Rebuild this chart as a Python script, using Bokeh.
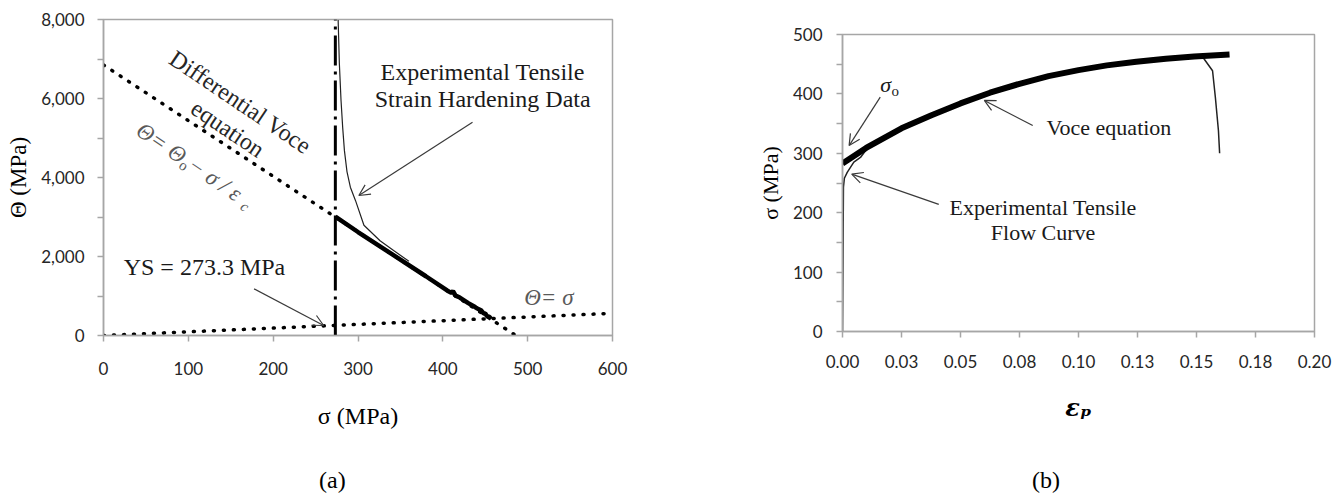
import math
from bokeh.plotting import figure
from bokeh.layouts import row, column
from bokeh.models import (Range1d, FixedTicker, NumeralTickFormatter, Label,
                          Arrow, OpenHead, Div)
from bokeh.embed import file_html
from bokeh.resources import INLINE

# ---------------- data: panel (a) ----------------
voce_sigma = [0, 486]                 # differential Voce equation (dotted)
voce_theta = [6850, 0]
ident_sigma = [0, 592]                # Theta = sigma (dotted)
ident_theta = [0, 555]
ys_sigma = [273.3, 273.3]             # yield strength line (dash-dot)
ys_theta = [0, 8000]
hard_thin_sigma = [276.6, 278, 280, 282, 284, 287, 291, 297, 307, 326, 342, 360]
hard_thin_theta = [7990, 6900, 5950, 5250, 4680, 4150, 3755, 3420, 2790, 2400, 2150, 1880]
hard_thick_sigma = [273.3, 300, 340, 380, 405, 410, 412, 415, 420, 430, 438,
                    440, 445, 448, 450, 452, 455, 457]
hard_thick_theta = [3010, 2620, 2060, 1500, 1140, 1080, 1120, 1010, 960, 820, 720,
                    690, 640, 560, 560, 490, 470, 420]
sigma_ticks = [0, 100, 200, 300, 400, 500, 600]
theta_ticks = [0, 2000, 4000, 6000, 8000]
theta_minor = [1000, 3000, 5000, 7000]

# ---------------- data: panel (b) ----------------
voce_eps = [0, 0.01, 0.025, 0.0377, 0.05, 0.0625, 0.075, 0.0873, 0.1, 0.112,
            0.1245, 0.137, 0.149, 0.164]
voce_stress = [283, 309, 342, 364, 384, 402, 417, 430, 440, 448, 454, 459, 463, 466.5]
flow_eps = [0, 0.0002, 0.0004, 0.0008, 0.002, 0.0048, 0.0076, 0.011, 0.025, 0.05,
            0.075, 0.1, 0.125, 0.149, 0.153, 0.1568, 0.158, 0.1593, 0.1598]
flow_stress = [0, 120, 243, 258, 268, 285, 293, 311, 342, 384, 417, 440, 454, 463,
               460, 439, 394, 338, 300]
eps_ticks = [0, 0.025, 0.05, 0.075, 0.1, 0.125, 0.15, 0.175, 0.2]
eps_labels = ["0.00", "0.03", "0.05", "0.08", "0.10", "0.13", "0.15", "0.18", "0.20"]
stress_ticks = [0, 100, 200, 300, 400, 500]
stress_minor = [50, 150, 250, 350, 450]

SERIF = "Liberation Serif"
TICKFONT = "Lato"
AXIS_GRAY = "#a6a6a6"
TXT = "#1a1a1a"
ARROW = "#3a3a3a"


def style_axes(p, xticks, yticks, yminor, xstand, ystand):
    p.xaxis.ticker = FixedTicker(ticks=xticks, minor_ticks=[])
    p.yaxis.ticker = FixedTicker(ticks=yticks, minor_ticks=yminor)
    p.xgrid.visible = False
    p.ygrid.visible = False
    for ax in (p.xaxis, p.yaxis):
        ax.axis_line_color = AXIS_GRAY
        ax.axis_line_width = 1.5
        ax.major_tick_line_color = AXIS_GRAY
        ax.minor_tick_line_color = AXIS_GRAY
        ax.major_tick_line_width = 1.5
        ax.minor_tick_line_width = 1.5
        ax.major_tick_in = 0
        ax.major_tick_out = 6
        ax.minor_tick_in = 0
        ax.minor_tick_out = 6
        ax.major_label_text_font = TICKFONT
        ax.major_label_text_font_size = "17px"
        ax.major_label_text_color = "#262626"
        ax.axis_label_text_font = SERIF
        ax.axis_label_text_font_style = "normal"
        ax.axis_label_text_color = "black"
    p.xaxis.major_label_standoff = xstand
    p.yaxis.major_label_standoff = ystand
    p.outline_line_color = AXIS_GRAY
    p.outline_line_width = 1.5
    p.background_fill_color = "white"
    p.border_fill_color = "white"


def lab(p, x, y, text, size="23px", style="normal", color=TXT, angle=0.0,
        align="center", baseline="middle"):
    p.add_layout(Label(x=x, y=y, text=text, text_font=SERIF, text_font_size=size,
                       text_font_style=style, text_color=color, angle=angle,
                       text_align=align, text_baseline=baseline))


def arrow(p, x0, y0, x1, y1):
    p.add_layout(Arrow(end=OpenHead(size=11, line_width=1.2, line_color=ARROW),
                       x_start=x0, y_start=y0, x_end=x1, y_end=y1,
                       line_width=1.2, line_color=ARROW))


def panel_letter(text, pad_left):
    html = ('<div style="font-family:\'Liberation Serif\',serif;font-size:24px;'
            'line-height:28px;padding-top:11px;padding-left:%dpx;color:black;'
            'margin:0;">%s</div>' % (pad_left, text))
    return Div(text=html, width=672, height=38, margin=(0, 0, 0, 0))


FIG_H = 455

# ======================= panel (a) =======================
pa = figure(width=672, height=FIG_H, output_backend="svg", toolbar_location=None,
            x_range=Range1d(0, 600), y_range=Range1d(0, 8000),
            min_border_left=103, min_border_right=60,
            min_border_top=19, min_border_bottom=FIG_H - 335)
style_axes(pa, sigma_ticks, theta_ticks, theta_minor, 20, 13)
pa.yaxis.formatter = NumeralTickFormatter(format="0,0")
pa.xaxis.axis_label = "σ (MPa)"
pa.xaxis.axis_label_text_font_size = "24px"
pa.xaxis.axis_label_standoff = 25
pa.yaxis.axis_label = "Θ (MPa)"
pa.yaxis.axis_label_text_font_size = "23px"
pa.yaxis.axis_label_standoff = 7

pa.line(voce_sigma, voce_theta, line_color="black", line_width=3.5,
        line_dash="1 9", line_cap="round")
pa.line(ident_sigma, ident_theta, line_color="black", line_width=3.5,
        line_dash="1 9", line_cap="round")
pa.line(ys_sigma, ys_theta, line_color="black", line_width=3,
        line_dash="30 6 3 6")
pa.line(hard_thin_sigma, hard_thin_theta, line_color="#222222", line_width=1.2)
pa.line(hard_thick_sigma, hard_thick_theta, line_color="black", line_width=4.5)

ang = -math.radians(34)
lab(pa, 161.5, 5906, "Differential Voce", size="24px", color="#262626", angle=ang)
lab(pa, 146.5, 5233, "equation", size="24px", color="#262626", angle=ang)
FORM = "#5a5a5a"
lab(pa, 41.6, 5258, "Θ= Θ", size="23px", style="italic", color=FORM, angle=ang, align="left")
lab(pa, 90.9, 4361, "o", size="15px", color=FORM, angle=ang, align="left")
lab(pa, 102.2, 4381, " − σ / ε", size="23px", style="italic", color=FORM, angle=ang, align="left")
lab(pa, 163.3, 3312, "c", size="15px", style="italic", color=FORM, angle=ang, align="left")

lab(pa, 447, 6667, "Experimental Tensile", size="24px")
lab(pa, 447, 5992, "Strain Hardening Data", size="24px")
arrow(pa, 435, 5400, 301, 3544)
lab(pa, 119, 1730, "YS = 273.3 MPa", size="24px")
arrow(pa, 177.5, 1181, 259.5, 253)
lab(pa, 525, 970, "Θ= σ", size="23px", style="italic", color=FORM)

# ======================= panel (b) =======================
pb = figure(width=672, height=FIG_H, output_backend="svg", toolbar_location=None,
            x_range=Range1d(0, 0.2), y_range=Range1d(0, 500),
            min_border_left=170, min_border_right=30,
            min_border_top=34, min_border_bottom=FIG_H - 331)
style_axes(pb, eps_ticks, stress_ticks, stress_minor, 17, 14)
pb.xaxis.major_label_overrides = {t: l for t, l in zip(eps_ticks, eps_labels)}
pb.xaxis.axis_label = "εₚ"
pb.xaxis.axis_label_text_font = "DejaVu Serif"
pb.xaxis.axis_label_text_font_size = "24px"
pb.xaxis.axis_label_text_font_style = "bold italic"
pb.xaxis.axis_label_standoff = 22
pb.yaxis.axis_label = "σ (MPa)"
pb.yaxis.axis_label_text_font_size = "22px"
pb.yaxis.axis_label_standoff = 7

pb.line(flow_eps, flow_stress, line_color="#222222", line_width=1.5)
pb.line(voce_eps, voce_stress, line_color="black", line_width=6)

lab(pb, 0.016, 416, "σ", size="22px", style="italic", align="left")
lab(pb, 0.0208, 405, "o", size="15px", align="left")
arrow(pb, 0.016, 394.6, 0.0028, 313)
lab(pb, 0.1129, 344, "Voce equation", size="22px")
arrow(pb, 0.0806, 346.7, 0.0601, 389)
lab(pb, 0.085, 209, "Experimental Tensile", size="22px")
lab(pb, 0.085, 167, "Flow Curve", size="22px")
arrow(pb, 0.0408, 214, 0.0039, 265)

layout = row(column(pa, panel_letter("(a)", 319)),
             column(pb, panel_letter("(b)", 360)))
open("out.html", "w").write(file_html(layout, INLINE))
